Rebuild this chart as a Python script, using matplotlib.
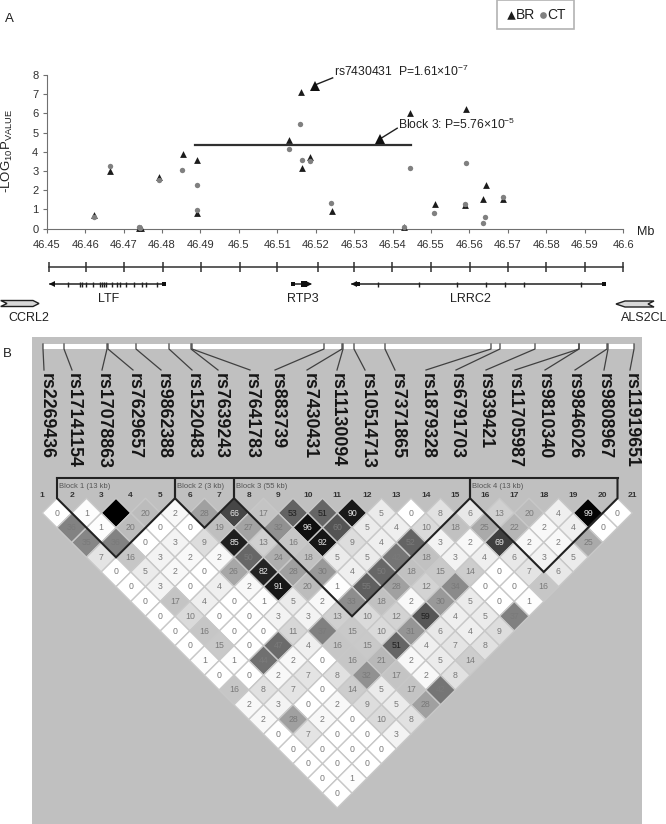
import numpy as np
import matplotlib
matplotlib.use('Agg')
import matplotlib.pyplot as plt
from matplotlib.collections import PolyCollection
from matplotlib.patches import Polygon, Rectangle

plt.rcParams['font.family'] = ['Liberation Sans', 'DejaVu Sans']
plt.rcParams['mathtext.default'] = 'regular'

# panel A values
br_x = [46.4624, 46.4665, 46.4741, 46.4746, 46.4793, 46.4854, 46.4890, 46.4892, 46.5131, 46.5161, 46.5165,
        46.5186, 46.5242, 46.5430, 46.5446, 46.5510, 46.5589, 46.5591, 46.5636, 46.5642, 46.5687]
br_y = [0.70, 3.00, 0.05, 0.03, 2.70, 3.90, 0.80, 3.55, 4.60, 7.10, 3.15,
        3.75, 0.90, 0.10, 6.00, 1.30, 1.25, 6.25, 1.55, 2.25, 1.55]
ct_x = [46.4624, 46.4664, 46.4741, 46.4744, 46.4793, 46.4852, 46.4890, 46.4891, 46.5130, 46.5160, 46.5165,
        46.5185, 46.5241, 46.5430, 46.5445, 46.5509, 46.5588, 46.5590, 46.5635, 46.5641, 46.5686]
ct_y = [0.62, 3.28, 0.10, 0.03, 2.55, 3.03, 0.95, 2.25, 4.15, 5.45, 3.55,
        3.50, 1.35, 0.08, 3.17, 0.80, 1.30, 3.40, 0.30, 0.60, 1.63]
block3_x = [46.4885, 46.5449]
block3_y = [4.35, 4.35]
x_ticks = [46.45, 46.46, 46.47, 46.48, 46.49, 46.5, 46.51, 46.52, 46.53, 46.54, 46.55, 46.56, 46.57, 46.58, 46.59, 46.6]
x_labels = ['46.45', '46.46', '46.47', '46.48', '46.49', '46.5', '46.51', '46.52', '46.53', '46.54', '46.55',
            '46.56', '46.57', '46.58', '46.59', '46.6']

# gene track, in Mb
scale_ticks = [46.4506, 46.4601, 46.4702, 46.4803, 46.4902, 46.5003, 46.5100, 46.5207, 46.5299, 46.5399, 46.5499,
               46.5601, 46.5701, 46.5800, 46.5901, 46.6000]
ltf_span = [46.4509, 46.4808]
ltf_exons = [46.4555, 46.4587, 46.4593, 46.4602, 46.4621, 46.4639, 46.4644, 46.4649, 46.4654, 46.4671, 46.4682,
             46.4691, 46.4706, 46.4728, 46.4747, 46.4758, 46.4786]
rtp3_span = [46.5140, 46.5185]
lrrc2_span = [46.5294, 46.5953]
lrrc2_exons = [46.5363, 46.5469, 46.5568, 46.5642, 46.5692, 46.5741, 46.5889]

# panel B
snps = ['rs2269436', 'rs17141154', 'rs17078863', 'rs7629657', 'rs9862388', 'rs1520483', 'rs7639243', 'rs7641783',
        'rs883739', 'rs7430431', 'rs11130094', 'rs10514713', 'rs7371865', 'rs1879328', 'rs6791703', 'rs939421',
        'rs11705987', 'rs9810340', 'rs9846026', 'rs9808967', 'rs11919651']
# one row per distance between the two markers
ld_rows = [
    [0, 1, 100, 20, 2, 28, 66, 17, 53, 51, 90, 5, 0, 8, 6, 13, 20, 4, 99, 0],
    [36, 1, 20, 0, 0, 19, 27, 32, 96, 60, 5, 4, 10, 18, 25, 22, 2, 4, 0],
    [35, 36, 0, 3, 9, 85, 13, 16, 92, 9, 4, 52, 3, 2, 69, 2, 2, 25],
    [7, 16, 3, 2, 2, 50, 24, 18, 5, 5, 42, 18, 3, 4, 6, 3, 5],
    [0, 5, 2, 0, 26, 82, 28, 30, 4, 50, 18, 15, 14, 0, 7, 6],
    [0, 3, 0, 4, 2, 91, 20, 1, 55, 28, 12, 34, 0, 0, 16],
    [0, 17, 4, 0, 1, 5, 2, 33, 18, 2, 30, 5, 0, 1],
    [0, 10, 0, 0, 3, 3, 13, 10, 12, 59, 4, 5, 37],
    [0, 16, 0, 0, 11, 37, 15, 10, 31, 6, 4, 9],
    [0, 15, 0, 47, 4, 16, 15, 51, 4, 7, 8],
    [1, 1, 44, 2, 0, 16, 21, 2, 5, 14],
    [0, 0, 2, 7, 8, 32, 17, 2, 8],
    [16, 8, 7, 0, 14, 5, 17, 42],
    [2, 3, 0, 2, 9, 5, 28],
    [2, 28, 2, 0, 10, 8],
    [0, 7, 0, 0, 3],
    [0, 0, 0, 0],
    [0, 0, 0],
    [0, 1],
    [0],
]
block_names = ['Block 1 (13 kb)', 'Block 2 (3 kb)', 'Block 3 (55 kb)', 'Block 4 (13 kb)']
block_edges = [1.5, 5.5, 7.5, 15.5, 20.5]

# shade of a cell for its value
shade_v = [0, 1, 2, 3, 5, 7, 10, 16, 20, 25, 28, 36, 45, 55, 66, 82, 90, 96, 100]
shade_g = [255, 253, 248, 243, 235, 228, 218, 198, 188, 170, 160, 130, 110, 95, 70, 35, 25, 15, 0]

W, H = 666, 824


def box(x0, y_top, x1, y_bot):
    return [x0 / W, 1 - y_bot / H, (x1 - x0) / W, (y_bot - y_top) / H]


fig = plt.figure(figsize=(6.66, 8.24), dpi=100)

# association plot
ax = fig.add_axes(box(46.7, 75, 623.2, 228.7))
ax.set_xlim(46.45, 46.6)
ax.set_ylim(0, 8)
br = ax.scatter(br_x, br_y, s=24, c='#1c1c1c', marker='^', linewidths=0, label='BR', clip_on=False, zorder=3)
ct = ax.scatter(ct_x, ct_y, s=15, c='#808080', marker='o', linewidths=0, label='CT', clip_on=False, zorder=3)
ax.plot(block3_x, block3_y, color='#303030', lw=1.6)
ax.set_xticks(x_ticks)
ax.set_xticklabels(x_labels)
ax.set_yticks(range(0, 9))
ax.tick_params(labelsize=8, length=3, width=0.8, color='#707070', labelcolor='#303030')
ax.tick_params(axis='x', pad=5)
ax.tick_params(axis='y', pad=3)
ax.spines['top'].set_visible(False)
ax.spines['right'].set_visible(False)
ax.spines['left'].set_color('#707070')
ax.spines['bottom'].set_color('#707070')

# callouts
ax.plot([46.5198, 46.5244], [7.48, 7.85], color='#202020', lw=1, clip_on=False)
ax.plot([46.5198], [7.45], marker='^', ms=7.5, color='#101010', mew=0, clip_on=False)
ax.text(46.5247, 8.18, 'rs7430431  P=1.61×10$^{-7}$', fontsize=8.7, va='center', color='#202020')
ax.plot([46.5367, 46.5412], [4.67, 5.23], color='#202020', lw=1)
ax.plot([46.5367], [4.65], marker='^', ms=7.5, color='#101010', mew=0)
ax.text(46.5414, 5.45, 'Block 3: P=5.76×10$^{-5}$', fontsize=8.7, va='center', color='#202020')

leg = fig.legend(handles=[br, ct], ncol=2, loc='upper left', bbox_to_anchor=(497 / W, 1.0), fontsize=10,
                 frameon=True, fancybox=False, borderaxespad=0, handletextpad=-0.1, columnspacing=0.1,
                 handlelength=0.9, borderpad=0.55, labelcolor='#202020', markerscale=1.25)
leg.get_frame().set_edgecolor('#a0a0a0')
leg.get_frame().set_linewidth(1.2)

# gene track, x in Mb and y in pixels
tr = fig.add_axes(box(46.7, 255, 623.2, 312))
tr.set_xlim(46.45, 46.6)
tr.set_ylim(312, 255)
tr.axis('off')
tr.plot([scale_ticks[0], scale_ticks[-1]], [266.7, 266.7], color='#303030', lw=1.1, clip_on=False)
tr.vlines(scale_ticks, 262, 271.5, color='#303030', lw=1.1, clip_on=False)
tr.plot(ltf_span, [284.3, 284.3], color='#202020', lw=1.1)
tr.vlines(ltf_exons, 282, 287, color='#202020', lw=1)
tr.plot([ltf_span[0] + 0.0005], [284.3], marker='<', ms=5, color='#101010', mew=0)
tr.plot([ltf_span[1] - 0.0003], [284.3], marker='s', ms=3, color='#101010', mew=0)
tr.plot(rtp3_span, [284.3, 284.3], color='#202020', lw=1.1)
tr.plot([rtp3_span[0] + 0.0002], [284.3], marker='s', ms=3, color='#101010', mew=0)
tr.plot([46.5169], [284.3], marker='s', ms=4, color='#101010', mew=0)
tr.plot([rtp3_span[1] - 0.0003], [284.3], marker='>', ms=4.5, color='#101010', mew=0)
tr.plot(lrrc2_span, [284.3, 284.3], color='#202020', lw=1.1)
tr.vlines(lrrc2_exons, 282, 287, color='#202020', lw=1)
tr.plot([lrrc2_span[0] + 0.0006], [284.3], marker='<', ms=5, color='#101010', mew=0)
tr.plot([lrrc2_span[0] + 0.0016], [284.3], marker='s', ms=3, color='#101010', mew=0)
tr.plot([lrrc2_span[1] - 0.0003], [284.3], marker='s', ms=3, color='#101010', mew=0)

# LD triangle, x is the mean marker number and y the distance between markers
ld = fig.add_axes(box(32, 337, 642, 824))
ld.set_xlim((32 - 12.75) / 29.5, (642 - 12.75) / 29.5)
ld.set_ylim((824 - 498.25) / 14.75, (337 - 498.25) / 14.75)
ld.set_facecolor('#c0c0c0')
ld.set_xticks([])
ld.set_yticks([])
for s in ld.spines.values():
    s.set_visible(False)

cells = []
greys = []
for d, row in enumerate(ld_rows, start=1):
    for i, v in enumerate(row, start=1):
        m = i + d / 2
        cells.append([(m - 0.5, d), (m, d - 1), (m + 0.5, d), (m, d + 1)])
        g = np.interp(v, shade_v, shade_g) / 255
        greys.append((g, g, g))
        if v < 100:
            col = '#e8e8e8' if v >= 62 else ('#202020' if v in (53, 51, 59) else '#7a7a7a')
            ld.text(m, d, str(v), fontsize=6.3, ha='center', va='center', color=col, zorder=3)
ld.add_collection(PolyCollection(cells, facecolors=greys, edgecolors='#c8c8c8', linewidths=1, zorder=2))

# block outlines
for k, name in enumerate(block_names):
    a, b = block_edges[k], block_edges[k + 1]
    ld.plot([a, a, (a + b) / 2, b, b], [-1.37, 0, b - a, 0, -1.37], color='#222222', lw=1.5, zorder=4,
            solid_joinstyle='miter')
    ld.text(a + 0.07, -0.83, name, fontsize=5.5, color='#555555', va='center', ha='left')
ld.plot([block_edges[0], block_edges[-1]], [-1.37, -1.37], color='#222222', lw=1.5, zorder=4)
for n in range(1, 22):
    ld.text(n, -0.16, str(n), fontsize=6, fontweight='bold', color='#333333', ha='center', va='center')

# everything else in pixels
pix = fig.add_axes([0, 0, 1, 1])
pix.set_xlim(0, W)
pix.set_ylim(H, 0)
pix.axis('off')
pix.patch.set_alpha(0)

pix.text(9, 19, 'A', fontsize=9.5, ha='center', va='center', color='#202020')
pix.text(7, 354, 'B', fontsize=9.5, ha='center', va='center', color='#202020')
pix.text(7, 151, '-LOG$_{10}$P$_{VALUE}$', fontsize=9.5, rotation=90, ha='center', va='center', color='#202020')
pix.text(646, 232, 'Mb', fontsize=9, ha='center', va='center', color='#202020')
for name, x, y in [('LTF', 108.7, 298.7), ('RTP3', 303, 298.7), ('LRRC2', 470.7, 298.7),
                   ('CCRL2', 29, 317.7), ('ALS2CL', 644, 317.7)]:
    pix.text(x, y, name, fontsize=9, ha='center', va='center', color='#202020')
pix.add_patch(Polygon([(0.7, 300.5), (33, 300.5), (39, 303.5), (33, 306.5), (0.7, 306.5), (7, 303.5)],
                      fc='#d8d8d8', ec='#202020', lw=1))
pix.add_patch(Polygon([(616, 304), (625, 301), (654, 301), (648, 304), (654, 307), (625, 307)],
                      fc='#d8d8d8', ec='#202020', lw=1))

pix.add_patch(Rectangle((43, 344), 591, 4.5, fc='white', ec='none'))
label_x = [46, 73, 103, 134, 163, 193, 220, 251, 277, 309, 337, 367, 397, 427, 456, 485, 514, 544, 574, 604, 631]
line_top = [43, 64, 107, 108, 136, 169, 191, 192, 324, 342, 343, 354, 385, 491, 500, 535, 579, 579, 607, 608, 634]
line_bot = [44, 72, 102, 133, 161, 192, 218, 250, 275, 307, 337, 365, 395, 426, 456, 486, 515, 545, 575, 604, 630]
for k, name in enumerate(snps):
    pix.plot([line_top[k], line_top[k], line_bot[k]], [344, 349, 370], color='#404040', lw=0.9)
    pix.text(label_x[k], 373, name, fontsize=12.8, fontweight='bold', rotation=270, ha='center', va='top',
             color='#151515')

fig.savefig('out.png', dpi=100)
